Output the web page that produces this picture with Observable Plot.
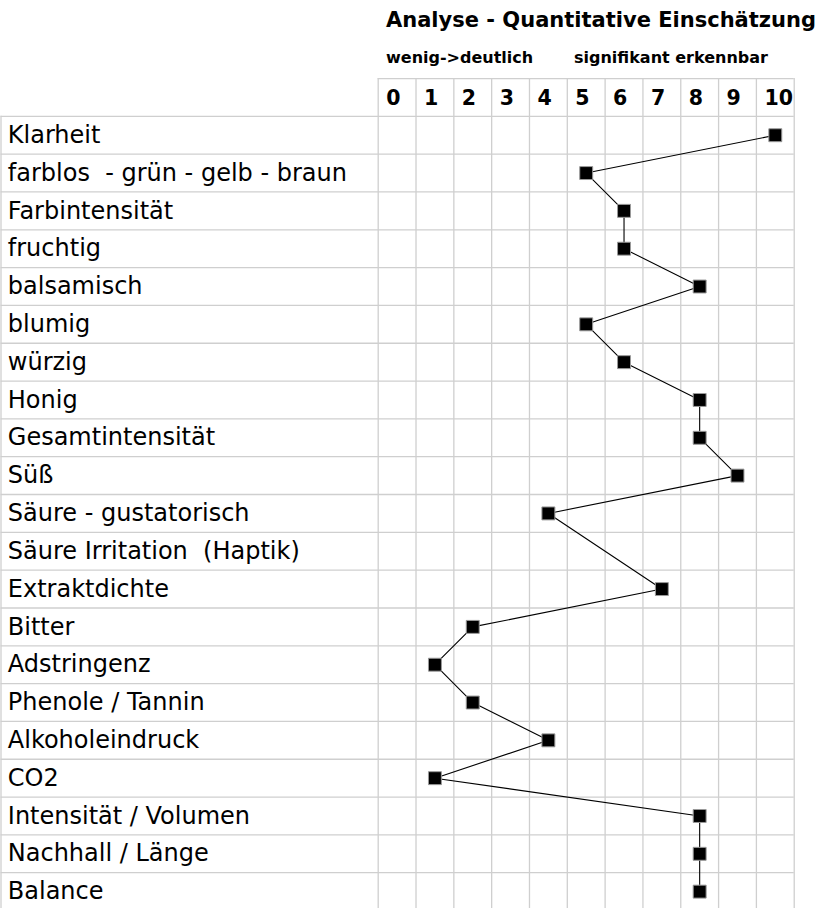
<!DOCTYPE html>
<html>
<head>
<meta charset="utf-8">
<script src="https://cdn.jsdelivr.net/npm/d3@7"></script>
<script src="https://cdn.jsdelivr.net/npm/@observablehq/plot@0.6"></script>
<style>
  html, body { margin: 0; padding: 0; background: #fff; overflow: hidden; width: 819px; height: 908px; }
  #head { position: relative; height: 77.5px; font-family: "DejaVu Sans", sans-serif; white-space: nowrap; }
  #head div { position: absolute; font-weight: bold; color: #000; line-height: 1; }
  #title { left: 386px; top: 10px; font-size: 21px; }
  #subL { left: 386px; top: 50px; font-size: 16px; }
  #subR { left: 574px; top: 50px; font-size: 16px; }
  #chart svg { overflow: hidden; display: block; }
</style>
</head>
<body>
<div id="head">
  <div id="title"></div>
  <div id="subL"></div>
  <div id="subR"></div>
</div>
<div id="chart"></div>
<script>
// ---- data ----
const title = "Analyse - Quantitative Einschätzung";
const subtitleLeft = "wenig->deutlich";
const subtitleRight = "signifikant erkennbar";
const scaleTicks = [0, 1, 2, 3, 4, 5, 6, 7, 8, 9, 10];
const attributes = [
  "Klarheit",
  "farblos  - grün - gelb - braun",
  "Farbintensität",
  "fruchtig",
  "balsamisch",
  "blumig",
  "würzig",
  "Honig",
  "Gesamtintensität",
  "Süß",
  "Säure - gustatorisch",
  "Säure Irritation  (Haptik)",
  "Extraktdichte",
  "Bitter",
  "Adstringenz",
  "Phenole / Tannin",
  "Alkoholeindruck",
  "CO2",
  "Intensität / Volumen",
  "Nachhall / Länge",
  "Balance"
];
const scores = [10, 5, 6, 6, 8, 5, 6, 8, 8, 9, 4, null, 7, 2, 1, 2, 4, 1, 8, 8, 8];

document.getElementById("title").textContent = title;
document.getElementById("subL").textContent = subtitleLeft;
document.getElementById("subR").textContent = subtitleRight;

// ---- layout ----
const W = 819, H = 830.5;
const cell = 37.82;
const gridLeft = 377.7;
const xRange = [gridLeft, gridLeft + 11 * cell];
const nRows = attributes.length;
// value at the left page edge (label column border)
const labelEdge = -0.5 - (gridLeft - 0.5) / cell;

const rows = attributes.map((label, i) => ({label, row: i + 0.5, value: scores[i]}));
const scored = rows.filter(d => d.value != null);

const grid = "#cfcfcf";
const chart = Plot.plot({
  width: W,
  height: H,
  margin: 0,
  style: {fontFamily: "DejaVu Sans, sans-serif", background: "#fff", overflow: "hidden"},
  x: {type: "linear", domain: [-0.5, 10.5], range: xRange, axis: null},
  y: {type: "linear", domain: [-1, nRows], range: [0, (nRows + 1) * cell], axis: null},
  marks: [
    // vertical grid lines of the score columns (incl. header row)
    Plot.ruleX(d3.range(-0.5, 11, 1), {y1: -1, y2: nRows, stroke: grid, strokeWidth: 1.3}),
    // left border of label column
    Plot.ruleX([labelEdge], {y1: 0, y2: nRows, stroke: grid, strokeWidth: 1.3}),
    // header top line
    Plot.ruleY([-1], {x1: -0.5, x2: 10.5, stroke: grid, strokeWidth: 1.3}),
    // row lines
    Plot.ruleY(d3.range(0, nRows + 1), {x1: labelEdge, x2: 10.5, stroke: grid, strokeWidth: 1.3}),
    // column header numbers
    Plot.text(scaleTicks, {x: d => d - 0.5, y: -0.5, text: d => String(d), textAnchor: "start",
      dx: 8, dy: 1, fontSize: 20.5, fontWeight: "bold", fill: "#000"}),
    // row labels
    Plot.text(rows, {x: labelEdge, y: "row", text: "label", textAnchor: "start",
      dx: 6.8, dy: 0, fontSize: 24, fill: "#000"}),
    // profile line
    Plot.line(scored, {x: "value", y: "row", stroke: "#000", strokeWidth: 1.1}),
    // markers
    Plot.dot(scored, {x: "value", y: "row", symbol: "square", r: 7.3, fill: "#000",
      stroke: "#999", strokeWidth: 1})
  ]
});
document.getElementById("chart").appendChild(chart);
</script>
</body>
</html>
